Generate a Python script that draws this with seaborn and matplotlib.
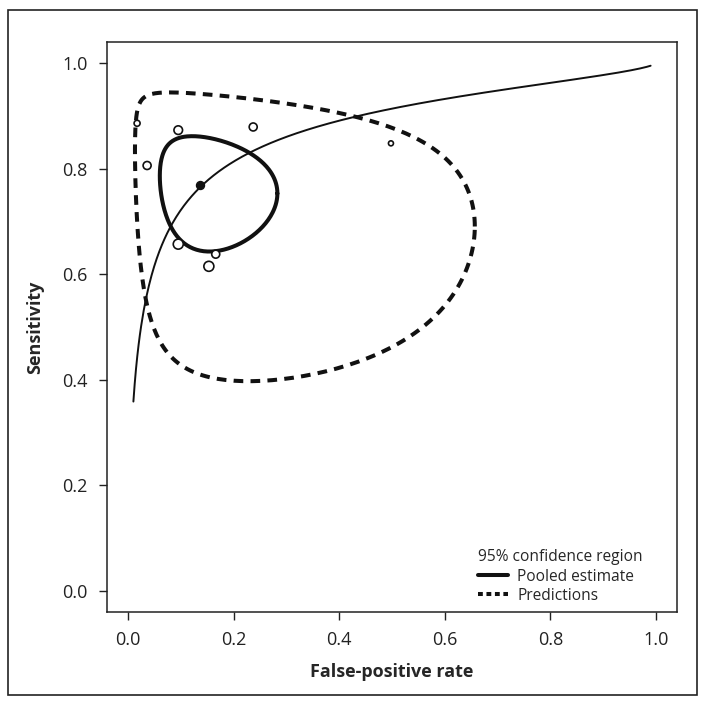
import numpy as np
import pandas as pd
import matplotlib
matplotlib.use("Agg")
import matplotlib.pyplot as plt
import seaborn as sns
from matplotlib.patches import Rectangle
from matplotlib.lines import Line2D

# estudios individuales: tasa de falsos positivos, sensibilidad, radio del marcador (px)
study_fpr = [0.017, 0.095, 0.237, 0.036, 0.498, 0.095, 0.166, 0.153]
study_sens = [0.886, 0.873, 0.879, 0.806, 0.848, 0.657, 0.638, 0.615]
study_size = [3.0, 4.3, 4.0, 4.0, 2.5, 5.0, 4.0, 5.0]

# estimacion combinada
pooled_fpr = 0.137
pooled_sens = 0.770

# curva SROC en escala logit: logit(sens) = a + b * logit(fpr)
sroc_a = 2.36
sroc_b = 0.64
sroc_fpr_range = [0.01, 0.99]

# regiones (escala logit): semiejes y correlacion
conf_sx, conf_sy, conf_rho = 0.91, 0.62, -0.15
pred_sx, pred_sy, pred_rho = 2.49, 1.625, -0.25

tick_vals = [0.0, 0.2, 0.4, 0.6, 0.8, 1.0]


def logit(p):
    return np.log(p / (1 - p))


def expit(v):
    return 1 / (1 + np.exp(-v))


def region(sx, sy, rho, n=300):
    t = np.linspace(0, 2 * np.pi, n)
    lx = logit(pooled_fpr) + sx * np.cos(t)
    ly = logit(pooled_sens) + sy * (rho * np.cos(t) + np.sqrt(1 - rho**2) * np.sin(t))
    return pd.DataFrame({"fpr": expit(lx), "sens": expit(ly), "order": np.arange(n)})


fx = np.linspace(sroc_fpr_range[0], sroc_fpr_range[1], 400)
sroc = pd.DataFrame({"fpr": fx, "sens": expit(sroc_a + sroc_b * logit(fx))})
conf = region(conf_sx, conf_sy, conf_rho)
pred = region(pred_sx, pred_sy, pred_rho)
studies = pd.DataFrame({"fpr": study_fpr, "sens": study_sens, "r": study_size})

sns.set_style("ticks")
plt.rcParams["font.family"] = ["Open Sans", "DejaVu Sans"]

fig = plt.figure(figsize=(7.06, 7.07), dpi=100)
ax = fig.add_axes([107 / 706, 95 / 707, 570 / 706, 570 / 707])

fig.patches.append(Rectangle((8 / 706, 12 / 707), 689 / 706, 685 / 707, transform=fig.transFigure,
                             fill=False, edgecolor="#222222", linewidth=1.2))

sns.lineplot(data=sroc, x="fpr", y="sens", sort=False, estimator=None, color="#111111",
             linewidth=1.4, ax=ax)
sns.lineplot(data=conf, x="fpr", y="sens", sort=False, estimator=None, color="#111111",
             linewidth=2.9, ax=ax)
sns.lineplot(data=pred, x="fpr", y="sens", sort=False, estimator=None, color="#111111",
             linewidth=2.9, linestyle=(0, (2.4, 1.8)), ax=ax)

ax.scatter(studies["fpr"], studies["sens"], s=(studies["r"] * 2 * 0.72) ** 2,
           facecolors="white", edgecolors="#111111", linewidths=1.2, zorder=4)
ax.scatter([pooled_fpr], [pooled_sens], s=(8 * 0.72) ** 2, color="#111111", zorder=5)

ax.set_xlim(-0.04, 1.04)
ax.set_ylim(-0.04, 1.04)
ax.set_xticks(tick_vals)
ax.set_yticks(tick_vals)
ax.set_xticklabels([f"{v:.1f}" for v in tick_vals])
ax.set_yticklabels([f"{v:.1f}" for v in tick_vals])
ax.tick_params(direction="out", length=6, width=1, pad=8, labelsize=13, colors="#222222")
for s in ax.spines.values():
    s.set_visible(True)
    s.set_linewidth(1.1)
    s.set_color("#222222")

ax.set_xlabel("False-positive rate", fontsize=13, fontweight="bold", labelpad=10)
ax.set_ylabel("Sensitivity", fontsize=13, fontweight="bold", labelpad=13)

handles = [Line2D([], [], color="#111111", linewidth=2.9),
           Line2D([], [], color="#111111", linewidth=2.9, linestyle=(0, (1.2, 0.9)))]
leg = ax.legend(handles, ["Pooled estimate", "Predictions"], title="95% confidence region",
                loc="lower right", bbox_to_anchor=(0.965, -0.01), frameon=False,
                fontsize=11.2, title_fontsize=11.2, handlelength=1.9, handletextpad=0.6,
                labelspacing=0.2)
leg._legend_box.align = "left"

plt.savefig("out.png", dpi=100)
